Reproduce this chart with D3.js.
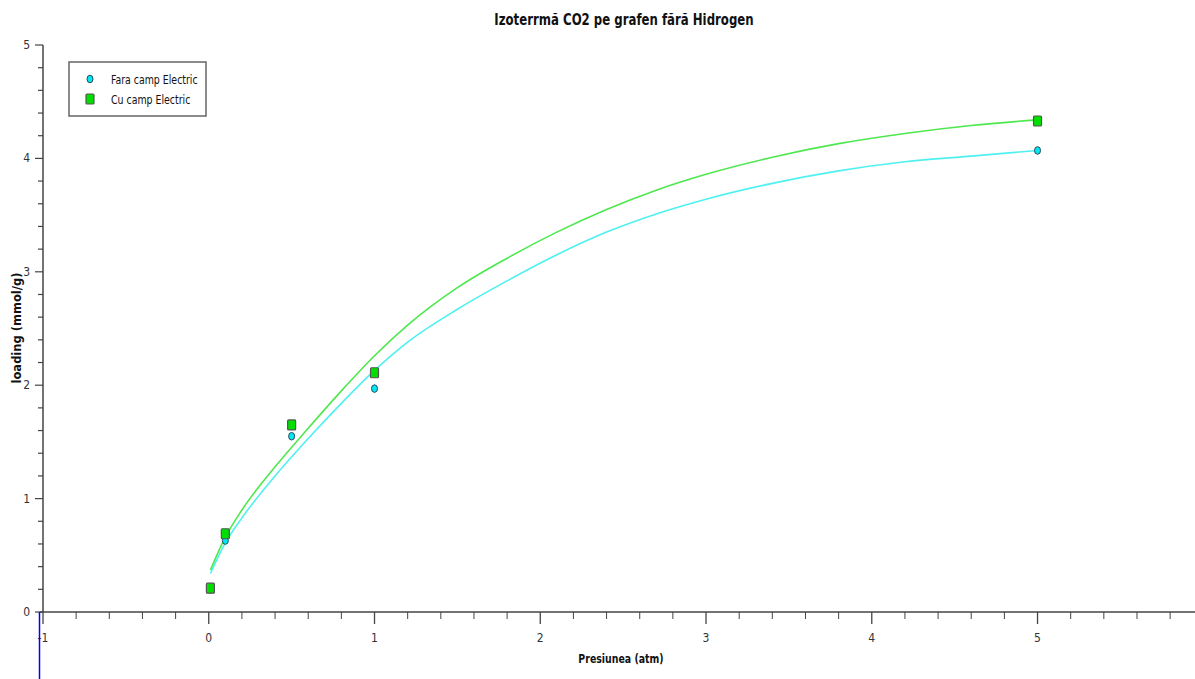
<!DOCTYPE html>
<html>
<head>
<meta charset="utf-8">
<script src="https://cdn.jsdelivr.net/npm/d3@7"></script>
<style>
  body { margin: 0; background: #fff; }
  svg { display: block; }
  .narrow { font-family: "Liberation Sans Narrow", "DejaVu Sans Condensed", "Arial Narrow", sans-serif; }
</style>
</head>
<body>
<div id="chart"></div>
<script>
// Measured points
const pressure = [0.01, 0.1, 0.5, 1, 5];
const fara = [0.2, 0.63, 1.55, 1.97, 4.07];
const cu = [0.21, 0.69, 1.65, 2.11, 4.33];

// Fitted curves
const fitX = [0.01, 0.1, 0.2, 0.4, 0.6, 0.8, 1.0, 1.2, 1.5, 1.8, 2.1, 2.4, 2.7, 3.0, 3.4, 3.8, 4.2, 4.6, 5.0];
const fitFara = [0.34, 0.61, 0.83, 1.20, 1.53, 1.84, 2.13, 2.38, 2.67, 2.92, 3.15, 3.35, 3.51, 3.64, 3.78, 3.89, 3.97, 4.02, 4.07];
const fitCu = [0.37, 0.66, 0.90, 1.28, 1.62, 1.95, 2.26, 2.53, 2.86, 3.12, 3.35, 3.55, 3.72, 3.86, 4.01, 4.13, 4.22, 4.29, 4.34];

const xTicks = [-1, 0, 1, 2, 3, 4, 5];
const yTicks = [0, 1, 2, 3, 4, 5];
const seriesNames = ['Fara camp Electric', 'Cu camp Electric'];

const width = 1195, height = 679;
const svg = d3.select('#chart').append('svg')
    .attr('width', width)
    .attr('height', height);

const x = d3.scaleLinear().domain([-1, 5.95]).range([43, 1195]);
const y = d3.scaleLinear().domain([0, 5]).range([612, 45]);

const axisColor = '#444';

// squeeze condensed text a bit more, the original font is narrower
function squeeze(sel, f = 0.87) {
    sel.each(function () {
        const w = this.getComputedTextLength();
        d3.select(this).attr('textLength', w * f).attr('lengthAdjust', 'spacingAndGlyphs');
    });
}

// x axis: minor ticks every 0.2
const xAxis = svg.append('g').attr('transform', `translate(0,${y(0)})`);
xAxis.append('line')
    .attr('x1', 40).attr('x2', width)
    .attr('stroke', axisColor).attr('stroke-width', 1.5);
const xMinor = d3.range(-1, 5.81, 0.2).map(v => Math.round(v * 10) / 10);
xAxis.selectAll('.minor').data(xMinor).join('line')
    .attr('x1', d => x(d)).attr('x2', d => x(d))
    .attr('y1', 0).attr('y2', d => Number.isInteger(d) ? 12 : 7)
    .attr('stroke', axisColor).attr('stroke-width', d => Number.isInteger(d) ? 1.3 : 1);
xAxis.selectAll('.lbl').data(xTicks).join('text')
    .attr('class', 'narrow')
    .attr('x', d => x(d)).attr('y', 30)
    .attr('text-anchor', 'middle')
    .attr('font-size', 12).attr('fill', '#333')
    .text(d => d);

// y axis
const yAxis = svg.append('g').attr('transform', `translate(${x(-1)},0)`);
yAxis.append('line')
    .attr('y1', y(0)).attr('y2', y(5))
    .attr('stroke', axisColor).attr('stroke-width', 1.5);
const yMinor = d3.range(0, 5.01, 0.2).map(v => Math.round(v * 10) / 10);
yAxis.selectAll('.minor').data(yMinor).join('line')
    .attr('y1', d => y(d)).attr('y2', d => y(d))
    .attr('x1', 0).attr('x2', d => Number.isInteger(d) ? -8 : -5)
    .attr('stroke', axisColor).attr('stroke-width', 1.2);
yAxis.selectAll('.lbl').data(yTicks).join('text')
    .attr('class', 'narrow')
    .attr('x', -13).attr('y', d => y(d) + 4)
    .attr('text-anchor', 'end')
    .attr('font-size', 12).attr('fill', '#333')
    .text(d => d);

// blue marker line below the origin
svg.append('line')
    .attr('x1', 39.5).attr('x2', 39.5)
    .attr('y1', y(0)).attr('y2', height)
    .attr('stroke', '#0000ff').attr('stroke-width', 1.5);

// fit curves
const line = d3.line().x(d => x(d[0])).y(d => y(d[1])).curve(d3.curveMonotoneX);
svg.append('path')
    .datum(d3.zip(fitX, fitFara))
    .attr('d', line)
    .attr('fill', 'none').attr('stroke', '#4ff0f0').attr('stroke-width', 1.6);
svg.append('path')
    .datum(d3.zip(fitX, fitCu))
    .attr('d', line)
    .attr('fill', 'none').attr('stroke', '#4de84d').attr('stroke-width', 1.6);

// markers
function drawCircle(g, cx, cy) {
    g.append('ellipse')
        .attr('cx', cx).attr('cy', cy).attr('rx', 3).attr('ry', 3.8)
        .attr('fill', '#00e8f4').attr('stroke', '#2a4a5a').attr('stroke-width', 1);
}
function drawSquare(g, cx, cy) {
    g.append('rect')
        .attr('x', cx - 4).attr('y', cy - 5).attr('width', 8).attr('height', 10)
        .attr('rx', 1)
        .attr('fill', '#00e000').attr('stroke', '#555').attr('stroke-width', 1.2);
}
const marks = svg.append('g');
pressure.forEach((p, i) => drawCircle(marks, x(p), y(fara[i])));
pressure.forEach((p, i) => drawSquare(marks, x(p), y(cu[i])));

// legend
const legend = svg.append('g');
legend.append('rect')
    .attr('x', 69).attr('y', 62).attr('width', 137).attr('height', 54)
    .attr('fill', '#fff').attr('stroke', '#666').attr('stroke-width', 1.5);
drawCircle(legend, 90, 79);
drawSquare(legend, 90, 99);
legend.selectAll('text').data(seriesNames).join('text')
    .attr('class', 'narrow')
    .attr('x', 111).attr('y', (d, i) => 84 + i * 20)
    .attr('font-size', 12).attr('fill', '#111')
    .text(d => d)
    .call(squeeze);

// title and axis labels
svg.append('text')
    .attr('class', 'narrow')
    .attr('x', 624).attr('y', 25)
    .attr('text-anchor', 'middle')
    .attr('font-size', 15).attr('font-weight', 'bold').attr('fill', '#111')
    .text('Izoterrmă CO2 pe grafen fără Hidrogen')
    .call(squeeze);

svg.append('text')
    .attr('class', 'narrow')
    .attr('x', 621).attr('y', 663)
    .attr('text-anchor', 'middle')
    .attr('font-size', 12).attr('font-weight', 'bold').attr('fill', '#111')
    .text('Presiunea (atm)')
    .call(squeeze);

svg.append('text')
    .attr('transform', 'translate(21,328) rotate(-90)')
    .attr('text-anchor', 'middle')
    .attr('font-family', '"DejaVu Sans", sans-serif')
    .attr('font-size', 11.5).attr('font-weight', 'bold').attr('fill', '#111')
    .text('loading (mmol/g)');
</script>
</body>
</html>
